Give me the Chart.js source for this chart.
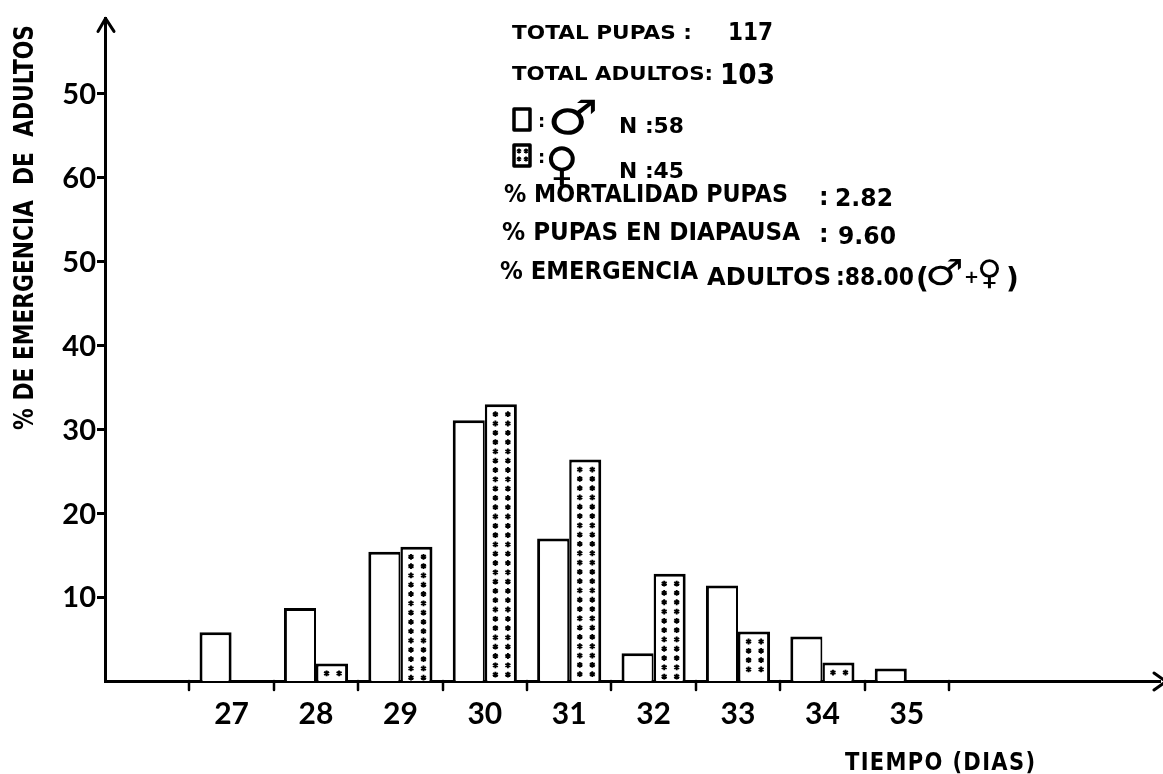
<!DOCTYPE html>
<html>
<head>
<meta charset="utf-8">
<script src="https://cdn.jsdelivr.net/npm/chart.js@4/dist/chart.umd.min.js"></script>
<style>
  html, body { margin: 0; padding: 0; background: #fff; }
  #wrap { width: 1163px; height: 774px; position: relative; }
</style>
</head>
<body>
<div id="wrap"><canvas id="c" width="1163" height="774"></canvas></div>
<script>
// Emergence days and percentage of adults emerging each day
const days = [27, 28, 29, 30, 31, 32, 33, 34, 35];
const dayLabels = ['27', '28', '29', '30', '31', '32', '33', '34', '35'];
const malePct = [5.8, 8.7, 15.4, 31.1, 17.0, 3.3, 11.4, 5.3, 1.5];
const femalePct = [null, 2.1, 16.0, 33.0, 26.4, 12.8, 5.9, 2.2, null];

// Y-axis ticks as printed on the original figure
const yTickValues = [10, 20, 30, 40, 50, 60, 70];
const yTickLabels = ['10', '20', '30', '40', '50', '60', '50'];

// Summary figures
const totalPupas = '117';
const totalAdultos = '103';
const nMachos = '58';
const nHembras = '45';
const mortalidadPupas = '2.82';
const pupasDiapausa = '9.60';
const emergenciaAdultos = '88.00';

const yTitle = '% DE EMERGENCIA  DE  ADULTOS';
const xTitle = 'TIEMPO (DIAS)';

const FONT = 'Lato, "Open Sans", sans-serif';
const TEXT = '"DejaVu Sans", sans-serif';

// left-aligned bold text on a baseline, scaled horizontally to a given width
function fitText(ctx, str, x, y, size, width, family, spacing) {
  ctx.save();
  ctx.font = 'bold ' + size + 'px ' + (family || TEXT);
  ctx.textAlign = 'left';
  ctx.textBaseline = 'alphabetic';
  ctx.fillStyle = '#000';
  ctx.letterSpacing = (spacing || 0) + 'px';
  ctx.translate(x, y);
  if (width) {
    const w = ctx.measureText(str).width - (spacing || 0);
    ctx.scale(width / w, 1);
  }
  ctx.fillText(str, 0, 0);
  ctx.restore();
}

function symText(ctx, str, x, y, size, sx) {
  ctx.save();
  ctx.font = size + 'px ' + TEXT;
  ctx.textAlign = 'left';
  ctx.textBaseline = 'alphabetic';
  ctx.fillStyle = '#000';
  ctx.translate(x, y);
  ctx.scale(sx || 1, 1);
  ctx.fillText(str, 0, 0);
  ctx.restore();
}

function star(ctx, cx, cy, r) {
  ctx.beginPath();
  for (let k = 0; k < 3; k++) {
    const a = Math.PI / 2 + k * Math.PI / 3;
    ctx.moveTo(cx - r * Math.cos(a), cy - r * Math.sin(a));
    ctx.lineTo(cx + r * Math.cos(a), cy + r * Math.sin(a));
  }
  ctx.stroke();
}

const decor = {
  id: 'decor',
  afterDatasetsDraw(chart) {
    const ctx = chart.ctx;
    // dotted fill of the female bars
    const meta = chart.getDatasetMeta(1);
    ctx.save();
    ctx.strokeStyle = '#000';
    ctx.lineWidth = 1.9;
    meta.data.forEach((el, i) => {
      if (femalePct[i] == null) return;
      const p = el.getProps(['x', 'y', 'base', 'width'], true);
      const left = p.x - p.width / 2;
      const cols = [left + p.width * 0.33, left + p.width * 0.72];
      for (let yy = p.y + 10; yy < p.base - 3; yy += 9.3) {
        cols.forEach(cx => star(ctx, cx, yy, 2.9));
      }
    });
    ctx.restore();
  },
  afterDraw(chart) {
    const ctx = chart.ctx;
    const xs = chart.scales.x;
    const area = chart.chartArea;
    ctx.save();
    ctx.strokeStyle = '#000';
    ctx.lineCap = 'round';
    ctx.lineJoin = 'round';

    // day boundary marks under the time axis
    ctx.lineWidth = 2.5;
    for (let b = 26.5; b <= 35.5; b += 1) {
      const px = Math.round(xs.getPixelForValue(b));
      ctx.beginPath();
      ctx.moveTo(px, area.bottom);
      ctx.lineTo(px, area.bottom + 9);
      ctx.stroke();
    }

    // arrow heads
    ctx.lineWidth = 3;
    ctx.beginPath();
    ctx.moveTo(area.left - 7, area.top + 13);
    ctx.lineTo(area.left + 0.5, area.top);
    ctx.lineTo(area.left + 9, area.top + 13);
    ctx.stroke();
    ctx.beginPath();
    ctx.moveTo(area.right - 6, area.bottom - 8);
    ctx.lineTo(area.right + 6, area.bottom + 0.5);
    ctx.lineTo(area.right - 6, area.bottom + 9);
    ctx.stroke();
    ctx.restore();

    // axis titles
    ctx.save();
    ctx.translate(33, 430);
    ctx.rotate(-Math.PI / 2);
    fitText(ctx, yTitle, 0, 0, 26, 405);
    ctx.restore();
    fitText(ctx, xTitle, 845, 770, 24, 190, TEXT, 1.5);

    // summary block
    fitText(ctx, 'TOTAL PUPAS :', 512, 39, 20, 180);
    fitText(ctx, totalPupas, 728, 40, 24, 45);
    fitText(ctx, 'TOTAL ADULTOS:', 512, 80, 20, 201);
    fitText(ctx, totalAdultos, 720, 84, 28, 55);

    // legend: open box = males, dotted box = females
    ctx.save();
    ctx.strokeStyle = '#000';
    ctx.lineWidth = 3.5;
    ctx.lineJoin = 'round';
    ctx.strokeRect(514, 109, 16, 21);
    ctx.strokeRect(514, 145, 16, 21);
    ctx.lineWidth = 1.6;
    [[519, 151], [526, 151], [519, 159], [526, 159]].forEach(p => star(ctx, p[0], p[1], 2.4));
    ctx.restore();
    fitText(ctx, ':', 538, 127, 18);
    symText(ctx, '\u2642', 547, 134, 48, 1.2);
    fitText(ctx, 'N :' + nMachos, 619, 133, 22, 65);
    fitText(ctx, ':', 538, 163, 18);
    symText(ctx, '\u2640', 545, 180, 46, 1.0);
    fitText(ctx, 'N :' + nHembras, 619, 178, 22, 65);

    fitText(ctx, '% MORTALIDAD PUPAS', 504, 202, 24, 284);
    fitText(ctx, ':', 819, 205, 24);
    fitText(ctx, mortalidadPupas, 835, 206, 24, 58);
    fitText(ctx, '% PUPAS EN DIAPAUSA', 502, 240, 24, 298);
    fitText(ctx, ':', 819, 242, 24);
    fitText(ctx, pupasDiapausa, 838, 244, 24, 58);
    fitText(ctx, '% EMERGENCIA', 500, 279, 24, 198);
    fitText(ctx, 'ADULTOS', 707, 285, 24, 124);
    fitText(ctx, ':' + emergenciaAdultos, 836, 285, 24, 78);
    fitText(ctx, '(', 916, 288, 28);
    symText(ctx, '\u2642', 925, 285, 36, 1.2);
    fitText(ctx, '+', 964, 283, 18);
    symText(ctx, '\u2640', 977, 284, 34);
    fitText(ctx, ')', 1006, 288, 28);
  }
};

const ctx = document.getElementById('c').getContext('2d');
new Chart(ctx, {
  type: 'bar',
  data: {
    datasets: [
      {
        label: '\u2642',
        data: days.map((d, i) => ({ x: d, y: malePct[i] })),
        backgroundColor: '#fff',
        borderColor: '#000',
        borderWidth: c => ({ left: 3, top: 3, right: femalePct[c.dataIndex] == null ? 3 : 2, bottom: 0 }),
        borderSkipped: 'start',
        categoryPercentage: 0.76,
        barPercentage: 1.0
      },
      {
        label: '\u2640',
        data: days.map((d, i) => ({ x: d, y: femalePct[i] })),
        backgroundColor: '#fff',
        borderColor: '#000',
        borderWidth: c => ({ left: malePct[c.dataIndex] == null ? 3 : 2.5, top: 3, right: 3, bottom: 0 }),
        borderSkipped: 'start',
        categoryPercentage: 0.76,
        barPercentage: 1.0
      }
    ]
  },
  options: {
    responsive: false,
    animation: false,
    devicePixelRatio: 1,
    layout: { padding: { top: 13, right: 3, left: 0, bottom: 0 } },
    plugins: { legend: { display: false }, tooltip: { enabled: false } },
    scales: {
      x: {
        type: 'linear',
        offset: false,
        min: 25.5,
        max: 38,
        afterBuildTicks: s => { s.ticks = days.map(v => ({ value: v })); },
        afterFit: s => { s.height = 93; },
        grid: { display: false, offset: false },
        border: { display: true, color: '#000', width: 3 },
        ticks: {
          callback: (v, i) => dayLabels[i],
          font: { family: FONT, size: 30, weight: 'bold' },
          color: '#000',
          padding: 7,
          maxRotation: 0,
          autoSkip: false
        }
      },
      y: {
        min: 0,
        max: 79,
        afterBuildTicks: s => { s.ticks = yTickValues.map(v => ({ value: v })); },
        afterFit: s => { s.width = 105; },
        grid: { drawOnChartArea: false, drawTicks: true, tickLength: 8, lineWidth: 3, color: '#000' },
        border: { display: true, color: '#000', width: 3 },
        ticks: {
          callback: (v, i) => yTickLabels[i],
          font: { family: FONT, size: 29, weight: 'bold' },
          color: '#000',
          padding: 1,
          labelOffset: 1
        }
      }
    }
  },
  plugins: [decor]
});
</script>
</body>
</html>
